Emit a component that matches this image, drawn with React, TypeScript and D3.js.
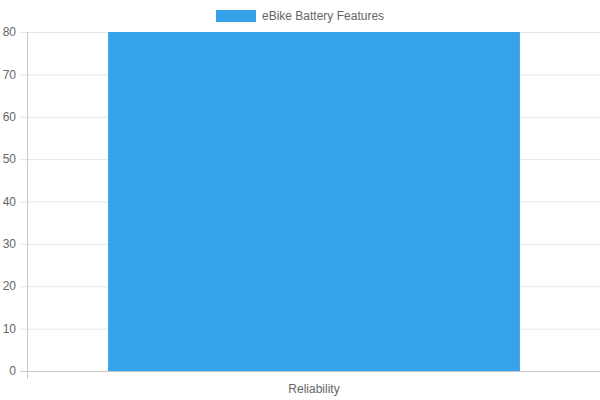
import * as d3 from "d3";

const WIDTH = 600;
const HEIGHT = 400;

const categories = ["Reliability"];
const values = [80];
const seriesName = "eBike Battery Features";
const yTicks = [0, 10, 20, 30, 40, 50, 60, 70, 80];

const margin = { top: 32, right: 0, bottom: 29, left: 28 };
const FONT = "'Liberation Sans', Arial, Helvetica, sans-serif";
const BLUE = "#36a2eb";

export default function App() {
  const x = d3
    .scaleBand()
    .domain(categories)
    .range([margin.left, WIDTH - margin.right])
    .paddingInner(0)
    .paddingOuter(0);

  const y = d3
    .scaleLinear()
    .domain([0, 80])
    .range([HEIGHT - margin.bottom, margin.top]);

  const bw = x.bandwidth() * 0.72;
  const x0 = margin.left;
  const y0 = y(0);

  return (
    <svg
      width={WIDTH}
      height={HEIGHT}
      style={{ position: "absolute", left: 0, top: 0, fontFamily: FONT }}
    >
      <rect width={WIDTH} height={HEIGHT} fill="#fff" />

      {/* horizontal grid + y ticks */}
      {yTicks.map((t) => (
        <g key={t}>
          <line
            x1={x0 - 8}
            x2={WIDTH - margin.right}
            y1={y(t) + 0.5}
            y2={y(t) + 0.5}
            stroke={t === 0 ? "#c8c8c8" : "#e6e6e6"}
          />
          <text
            x={x0 - 12}
            y={y(t)}
            dy="0.35em"
            textAnchor="end"
            fontSize={12}
            fill="#666"
          >
            {t}
          </text>
        </g>
      ))}

      {/* y axis line with tick below at the left category edge */}
      <line
        x1={x0 - 0.5}
        x2={x0 - 0.5}
        y1={margin.top}
        y2={y0 + 8}
        stroke="#c8c8c8"
      />

      {/* bars */}
      {categories.map((c, i) => (
        <rect
          key={c}
          x={(x(c) ?? 0) + (x.bandwidth() - bw) / 2}
          y={y(values[i])}
          width={bw}
          height={y0 - y(values[i])}
          fill={BLUE}
        />
      ))}

      {/* x labels */}
      {categories.map((c) => (
        <text
          key={c}
          x={(x(c) ?? 0) + x.bandwidth() / 2}
          y={y0 + 18}
          dy="0.35em"
          textAnchor="middle"
          fontSize={12}
          fill="#666"
        >
          {c}
        </text>
      ))}

      {/* legend */}
      <g>
        <rect x={216} y={10} width={40} height={12} fill={BLUE} />
        <text x={262} y={16} dy="0.35em" fontSize={12} fill="#666">
          {seriesName}
        </text>
      </g>
    </svg>
  );
}
